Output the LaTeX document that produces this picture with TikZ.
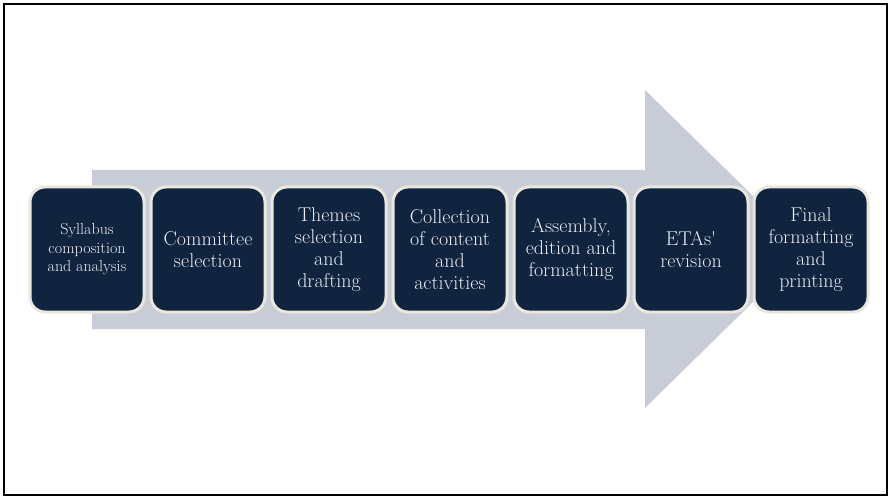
\documentclass[tikz,border=0pt]{standalone}
\usepackage{tikz}

\definecolor{navy}{HTML}{10233F}
\definecolor{cream}{HTML}{EAE8DE}
\definecolor{arrowgray}{HTML}{C8CCD6}
\definecolor{paletext}{HTML}{EAECF2}

\tikzset{
  stage/.style={fill=navy, draw=cream, line width=3pt, rounded corners=15pt,
    minimum width=114pt, minimum height=125pt, inner sep=2pt,
    text=paletext, align=center, font=\fontsize{20}{22}\selectfont},
  smallstage/.style={stage, font=\fontsize{16}{18.5}\selectfont}
}

\begin{document}
\begin{tikzpicture}[x=1pt, y=-1pt]
    \useasboundingbox (0,0) rectangle (889,497);
    \draw[line width=2.5pt] (4,4) rectangle (887,495);
    % big arrow behind the stages
    \fill[arrowgray] (92,170) -- (645,170) -- (645,90) -- (807,249)
        -- (645,408) -- (645,329) -- (92,329) -- cycle;
    \node[smallstage] (syllabus) at (87,249.5) {Syllabus\\composition\\and analysis};
    \node[stage] (committee) at (208,249.5) {Committee\\selection};
    \node[stage] (themes) at (329,249.5) {Themes\\selection\\and\\drafting};
    \node[stage] (collection) at (450,249.5) {Collection\\of content\\and\\activities};
    \node[stage] (assembly) at (571,249.5) {Assembly,\\edition and\\formatting};
    \node[stage] (revision) at (691,249.5) {ETAs\textquotesingle\\revision};
    \node[stage] (printing) at (811,249.5) {Final\\formatting\\and\\printing};
\end{tikzpicture}
\end{document}
